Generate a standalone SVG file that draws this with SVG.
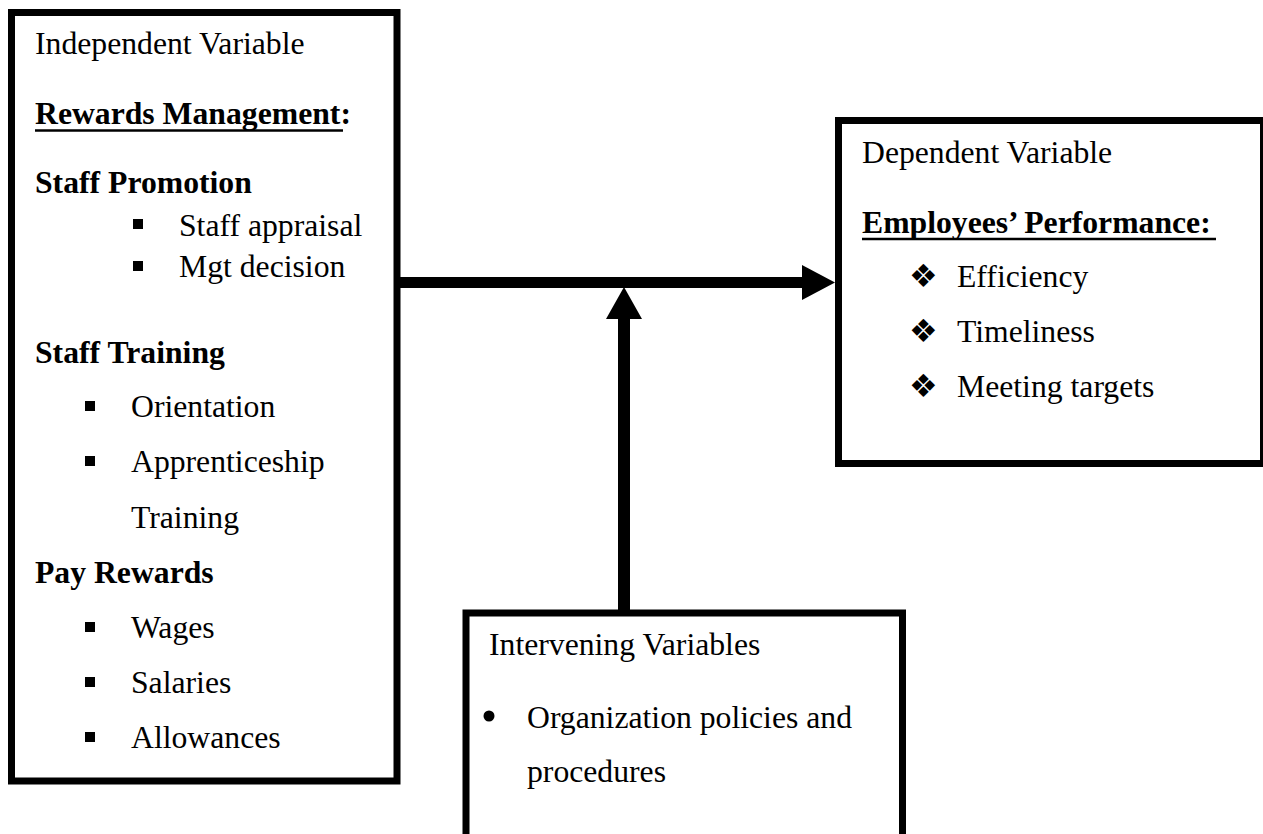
<svg xmlns="http://www.w3.org/2000/svg" width="1263" height="834" viewBox="0 0 1263 834">
<style>
.box{fill:#fff;stroke:#000;stroke-width:7}
.t{font-family:"Liberation Serif","Times New Roman",serif;font-size:31.7px;fill:#000}
.b{font-weight:bold}
.sym{font-family:"DejaVu Sans",sans-serif;font-size:32px;fill:#000}
.ul{stroke:#000;stroke-width:2.5}
.bul{fill:#000}
.conn{stroke:#000;fill:none}
</style>
<rect width="1263" height="834" fill="#fff"/>
<g id="connectors">
<line class="conn" x1="400" y1="282.5" x2="804" y2="282.5" stroke-width="11"/>
<polygon points="802,265 835,282.5 802,300" fill="#000"/>
<line class="conn" x1="624" y1="317" x2="624" y2="612" stroke-width="12"/>
<polygon points="606,319 624,287 642,319" fill="#000"/>
</g>
<g id="independent">
<rect class="box" x="11.5" y="12.5" width="385.5" height="768.5"/>
<text class="t" x="35" y="54">Independent Variable</text>
<text class="t b" x="35" y="124">Rewards Management:</text>
<line class="ul" x1="35" y1="130.5" x2="343" y2="130.5"/>
<text class="t b" x="35" y="193">Staff Promotion</text>
<rect class="bul" x="133" y="219" width="10" height="10"/>
<text class="t" x="179" y="236">Staff appraisal</text>
<rect class="bul" x="133" y="261" width="10" height="10"/>
<text class="t" x="179" y="277">Mgt decision</text>
<text class="t b" x="35" y="363">Staff Training</text>
<rect class="bul" x="85" y="401" width="10" height="10"/>
<text class="t" x="131" y="417">Orientation</text>
<rect class="bul" x="85" y="456" width="10" height="10"/>
<text class="t" x="131" y="472">Apprenticeship</text>
<text class="t" x="131" y="528">Training</text>
<text class="t b" x="35" y="583">Pay Rewards</text>
<rect class="bul" x="85" y="622" width="10" height="10"/>
<text class="t" x="131" y="638">Wages</text>
<rect class="bul" x="85" y="677" width="10" height="10"/>
<text class="t" x="131" y="693">Salaries</text>
<rect class="bul" x="85" y="732" width="10" height="10"/>
<text class="t" x="131" y="748">Allowances</text>
</g>
<g id="dependent">
<rect class="box" x="838.5" y="120.5" width="425" height="343"/>
<text class="t" x="862" y="163">Dependent Variable</text>
<text class="t b" x="862" y="233">Employees’ Performance:</text>
<line class="ul" x1="862" y1="239" x2="1216" y2="239"/>
<text class="sym" x="909" y="287">❖</text>
<text class="t" x="957" y="287">Efficiency</text>
<text class="sym" x="909" y="342">❖</text>
<text class="t" x="957" y="342">Timeliness</text>
<text class="sym" x="909" y="397">❖</text>
<text class="t" x="957" y="397">Meeting targets</text>
</g>
<g id="intervening">
<rect class="box" x="466" y="613" width="436.5" height="300"/>
<text class="t" x="489" y="655">Intervening Variables</text>
<circle class="bul" cx="489" cy="716" r="5.5"/>
<text class="t" x="527" y="728">Organization policies and</text>
<text class="t" x="527" y="782">procedures</text>
</g>
</svg>
